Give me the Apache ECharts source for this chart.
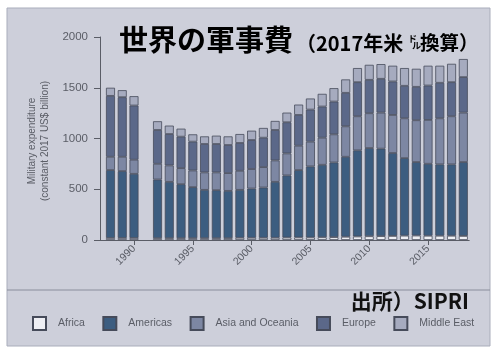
<!DOCTYPE html>
<html>
<head>
<meta charset="utf-8">
<script src="https://cdn.jsdelivr.net/npm/echarts@6/dist/echarts.min.js"></script>
<style>
  html, body { margin: 0; padding: 0; background: #fff; }
  #chart { width: 500px; height: 353px; }
</style>
</head>
<body>
<div id="chart"></div>
<script>
// 年（1991年はデータなし → '-'）
var years = ['1988', '1989', '1990', '1991',
  '1992', '1993', '1994', '1995', '1996', '1997', '1998', '1999', '2000', '2001', '2002', '2003', '2004',
  '2005', '2006', '2007', '2008', '2009', '2010', '2011', '2012', '2013', '2014', '2015', '2016', '2017', '2018'];
var africa = [20, 20, 20, '-',
  18, 18, 18, 18, 18, 18, 18, 22, 22, 22, 22, 24, 25,
  25, 27, 28, 32, 35, 37, 38, 40, 43, 44, 42, 42, 42, 40];
var americas = [669, 659, 632, '-',
  578, 555, 532, 503, 476, 473, 466, 472, 485, 495, 551, 612, 664,
  700, 714, 736, 788, 848, 869, 862, 817, 764, 724, 709, 703, 703, 728];
var asiaOceania = [131, 141, 139, '-',
  155, 162, 158, 164, 172, 175, 175, 188, 192, 201, 211, 217, 240,
  244, 267, 277, 300, 336, 343, 355, 375, 392, 412, 432, 454, 474, 487];
var europe = [600, 587, 534, '-',
  333, 309, 310, 284, 280, 280, 277, 274, 286, 290, 300, 307, 303,
  316, 307, 323, 330, 336, 329, 333, 330, 320, 329, 339, 350, 336, 350];
var middleEast = [80, 69, 92, '-',
  86, 83, 79, 72, 75, 82, 85, 88, 92, 96, 89, 95, 102,
  109, 125, 132, 132, 139, 148, 145, 155, 175, 178, 195, 168, 181, 178];
var yTicks = [0, 500, 1000, 1500, 2000];

var names = ['Africa', 'Americas', 'Asia and Oceania', 'Europe', 'Middle East'];
var colors = ['#eeeff4', '#3c5d80', '#7d87a3', '#5b6889', '#a6abbf'];
var values = [africa, americas, asiaOceania, europe, middleEast];

var series = names.map(function (n, i) {
  return {
    name: n,
    type: 'bar',
    stack: 'total',
    barWidth: 9,
    data: values[i],
    itemStyle: { color: colors[i], borderColor: '#464b5a', borderWidth: 0.8 }
  };
});

// 5年ごとにラベル・目盛
function every5(idx, val) { return +val % 5 === 0; }

var axisGray = '#5a5d66';
var jp = '"Noto Sans CJK JP"';
var chart = echarts.init(document.getElementById('chart'), null, { renderer: 'canvas' });
chart.setOption({
  animation: false,
  backgroundColor: '#ffffff',
  graphic: [
    { type: 'rect', z: -10, shape: { x: 7, y: 8, width: 483, height: 338 },
      style: { fill: '#cdcfda', stroke: '#a9adbb', lineWidth: 1 } },
    { type: 'line', z: -9, shape: { x1: 7, y1: 290, x2: 490, y2: 290 },
      style: { stroke: '#8a8e9c', lineWidth: 1 } },
    // x軸線をy軸まで延ばす
    { type: 'line', z: 5, shape: { x1: 100, y1: 240.5, x2: 105, y2: 240.5 },
      style: { stroke: axisGray, lineWidth: 1 } },
    { type: 'text', x: 119, y: 40,
      style: { text: '世界の軍事費', fill: '#000', font: 'bold 29px ' + jp, verticalAlign: 'middle' } },
    { type: 'text', x: 296, y: 43,
      style: { text: '（2017年米', fill: '#000', font: 'bold 20px ' + jp, verticalAlign: 'middle' } },
    { type: 'text', x: 408, y: 39,
      style: { text: 'ド', fill: '#000', font: 'bold 9px ' + jp, verticalAlign: 'middle' } },
    { type: 'text', x: 412, y: 46,
      style: { text: 'ル', fill: '#000', font: 'bold 9px ' + jp, verticalAlign: 'middle' } },
    { type: 'text', x: 420, y: 43,
      style: { text: '換算）', fill: '#000', font: 'bold 19.5px ' + jp, verticalAlign: 'middle' } },
    { type: 'text', x: 469, y: 301,
      style: { text: '出所）SIPRI', fill: '#111', font: 'bold 21px ' + jp, align: 'right', verticalAlign: 'middle' } },
    { type: 'text', x: 39, y: 141, rotation: Math.PI / 2,
      style: { text: 'Military expenditure\n(constant 2017 US$ billion)', fill: axisGray,
        font: '10px "Liberation Sans"', align: 'center', verticalAlign: 'middle', lineHeight: 13 } }
  ],
  legend: {
    data: names,
    left: 27, top: 311,
    itemWidth: 13, itemHeight: 13, itemGap: 17.5,
    icon: 'rect',
    textStyle: { color: axisGray, fontSize: 10.5, fontFamily: 'Liberation Sans', padding: [0, 0, 0, 7] }
  },
  grid: { left: 104.6, right: 30.8, top: 37, bottom: 113 },
  xAxis: {
    type: 'category',
    data: years,
    boundaryGap: true,
    axisLine: { show: true, lineStyle: { color: axisGray, width: 1 } },
    axisTick: { show: true, length: 5, alignWithLabel: true, interval: every5, lineStyle: { color: axisGray } },
    axisLabel: { rotate: 45, color: axisGray, fontSize: 10.5, fontFamily: 'Liberation Sans',
      margin: 7, interval: every5 },
    splitLine: { show: false }
  },
  yAxis: {
    type: 'value',
    offset: 4.6,
    min: yTicks[0], max: yTicks[yTicks.length - 1], interval: 500,
    axisLine: { show: true, lineStyle: { color: axisGray, width: 1 } },
    axisTick: { show: true, length: 6, lineStyle: { color: axisGray } },
    axisLabel: { color: axisGray, fontSize: 11.5, fontFamily: 'Liberation Sans', margin: 12,
      formatter: function (v) { return String(v); } },
    splitLine: { show: false }
  },
  series: series
});
</script>
</body>
</html>
